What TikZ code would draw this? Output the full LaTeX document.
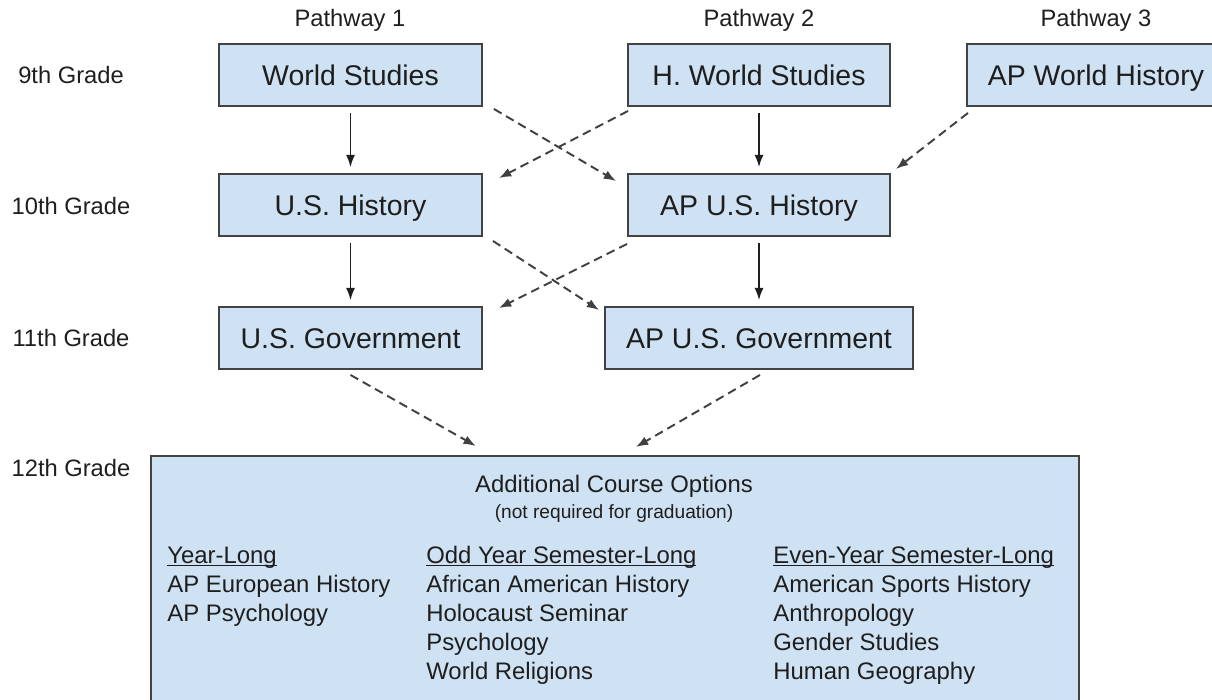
\documentclass[tikz,border=0pt]{standalone}
\usepackage{fontspec}
\setmainfont{Liberation Sans}
\usetikzlibrary{calc,arrows.meta}
\definecolor{boxblue}{HTML}{CFE2F3}
\definecolor{boxline}{HTML}{434343}
\definecolor{inkgray}{HTML}{1E1E1E}
\newcommand{\hdr}[1]{\setbox0\hbox{#1}\rlap{\rule[-1.9pt]{\wd0}{0.75pt}}\box0}
\tikzset{
	course/.style={draw=boxline, line width=1.1pt, fill=boxblue, minimum height=1.24cm, inner sep=0pt, text height=11.6pt, text depth=0pt, text=inkgray, font=\fontsize{16.2}{19}\selectfont},
	grade/.style={text=inkgray, inner sep=0pt, font=\fontsize{13.5}{16}\selectfont},
	listtext/.style={anchor=base west, inner sep=0pt, text=inkgray, font=\fontsize{13.6}{16}\selectfont},
	solidarrow/.style={-{Latex[length=7pt,width=5.2pt]}, line width=0.85pt, draw=inkgray, shorten <=3.4pt, shorten >=3.4pt},
	dasharrow/.style={-{Latex[length=7pt,width=5.2pt]}, line width=1.1pt, draw=inkgray!85, dash pattern=on 5pt off 3pt}
}

\begin{document}
\begin{tikzpicture}[x=0.02cm, y=-0.02cm]
		%%%%% START %%%%%
		\useasboundingbox (0, 0) rectangle (1212, 699);
		
		\node[grade] (p1) at (350, 20) {Pathway 1};
		\node[grade] (p2) at (759, 20) {Pathway 2};
		\node[grade] (p3) at (1096, 20) {Pathway 3};
		
		\node[grade] (g9) at (71, 75) {9th Grade};
		\node[grade] (g10) at (71, 206) {10th Grade};
		\node[grade] (g11) at (71, 338) {11th Grade};
		\node[grade] (g12) at (71, 468) {12th Grade};
		
		\node[course, minimum width=5.26cm] (ws) at (350.5, 75) {World Studies};
		\node[course, minimum width=5.24cm] (hws) at (759, 75) {H. World Studies};
		\node[course, minimum width=5.16cm, anchor=west] (awh) at (966, 75) {AP World History};
		
		\node[course, minimum width=5.26cm] (ush) at (350.5, 205) {U.S. History};
		\node[course, minimum width=5.24cm] (apush) at (759, 205) {AP U.S. History};
		
		\node[course, minimum width=5.26cm] (usg) at (350.5, 338) {U.S. Government};
		\node[course, minimum width=6.16cm] (apg) at (759, 338) {AP U.S. Government};
		
		\node[draw=boxline, line width=1.1pt, fill=boxblue, anchor=north west, minimum width=18.56cm, minimum height=5.4cm, inner sep=0pt] (opts) at (150, 455) {};
		
		\node[anchor=base, inner sep=0pt, text=inkgray, font=\fontsize{13.6}{16}\selectfont] (title) at (614, 492) {Additional Course Options};
		\node[anchor=base, inner sep=0pt, text=inkgray, font=\fontsize{10.9}{13}\selectfont] (note) at (614, 518) {(not required for graduation)};
		
		\node[listtext] (yl) at (167, 563) {\hdr{Year-Long}};
		\node[listtext] (yl1) at (167, 592) {AP European History};
		\node[listtext] (yl2) at (167, 621) {AP Psychology};
		
		\node[listtext] (odd) at (426, 563) {\hdr{Odd Year Semester-Long}};
		\node[listtext] (odd1) at (426, 592) {African American History};
		\node[listtext] (odd2) at (426, 621) {Holocaust Seminar};
		\node[listtext] (odd3) at (426, 650) {Psychology};
		\node[listtext] (odd4) at (426, 679) {World Religions};
		
		\node[listtext] (even) at (773, 563) {\hdr{Even-Year Semester-Long}};
		\node[listtext] (even1) at (773, 592) {American Sports History};
		\node[listtext] (even2) at (773, 621) {Anthropology};
		\node[listtext] (even3) at (773, 650) {Gender Studies};
		\node[listtext] (even4) at (773, 679) {Human Geography};
		
		% straight on
		\draw[solidarrow] (ws) -- (ush);
		\draw[solidarrow] (hws) -- (apush);
		\draw[solidarrow] (ush) -- (usg);
		\draw[solidarrow] (apush) -- (apg);
		
		% switching pathways
		\draw[dasharrow] ($(ws.south east)+(11, 2)$) -- ($(apush.north west)+(-11, 8)$);
		\draw[dasharrow] ($(hws.south west)+(1, 4)$) -- ($(ush.north east)+(16, 5)$);
		\draw[dasharrow] ($(awh.south west)+(2, 6)$) -- ($(apush.north east)+(5, -4)$);
		\draw[dasharrow] ($(ush.south east)+(10, 4)$) -- ($(apg.north west)+(-5, 4)$);
		\draw[dasharrow] ($(apush.south west)+(0, 7)$) -- ($(usg.north east)+(16, 2)$);
		
		% into the options
		\draw[dasharrow] ($(usg.south)+(0, 5)$) -- ($(opts.north)+(-139, -9)$);
		\draw[dasharrow] ($(apg.south)+(1, 5)$) -- ($(opts.north)+(21, -8)$);
		
		%%%%% END %%%%%
	\end{tikzpicture}
\end{document}
